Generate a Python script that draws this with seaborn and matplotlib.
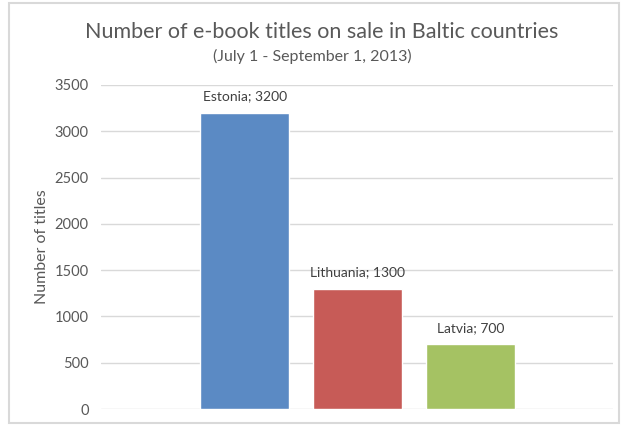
import matplotlib
matplotlib.use("Agg")
import matplotlib.pyplot as plt
import seaborn as sns
import pandas as pd
from matplotlib.patches import Rectangle

# data
countries = ["Estonia", "Lithuania", "Latvia"]
titles = [3200, 1300, 700]
colors = ["#5B8AC4", "#C75B57", "#A5C263"]

df = pd.DataFrame({"Country": countries, "Titles": titles})

sns.set_theme(style="white")
plt.rcParams['font.family'] = ['Lato', 'DejaVu Sans']
grey = "#595959"

fig = plt.figure(figsize=(6.21, 4.25), dpi=100)
ax = fig.add_axes([0.163, 0.0376, 0.824, 0.7624])

sns.barplot(data=df, x="Country", y="Titles", hue="Country", palette=colors,
            width=0.79, legend=False, ax=ax, saturation=1)

for i, (c, v) in enumerate(zip(countries, titles)):
    ax.text(i, v + 110, f"{c}; {v}", ha="center", va="bottom", fontsize=10, color="#404040")

ax.set_ylim(0, 3500)
ax.set_xlim(-1.27, 3.26)
ax.set_yticks(range(0, 3501, 500))
ax.yaxis.grid(True, color="#D9D9D9", linewidth=1)
ax.set_axisbelow(True)
for s in ax.spines.values():
    s.set_visible(False)
ax.set_xticks([])
ax.set_xlabel("")
ax.set_ylabel("Number of titles", fontsize=11.5, color=grey, labelpad=4)
ax.tick_params(axis="y", labelsize=10.5, labelcolor=grey, length=0, pad=9)

fig.text(0.518, 0.925, "Number of e-book titles on sale in Baltic countries",
         ha="center", va="center", fontsize=15.5, color=grey)
fig.text(0.503, 0.868, "(July 1 - September 1, 2013)",
         ha="center", va="center", fontsize=11.5, color=grey)

# chart border
fig.patches.append(Rectangle((9 / 621, 0.004), 610 / 621, 0.99, transform=fig.transFigure,
                             fill=False, edgecolor="#D9D9D9", linewidth=1.5))

fig.savefig("out.png", dpi=100)
